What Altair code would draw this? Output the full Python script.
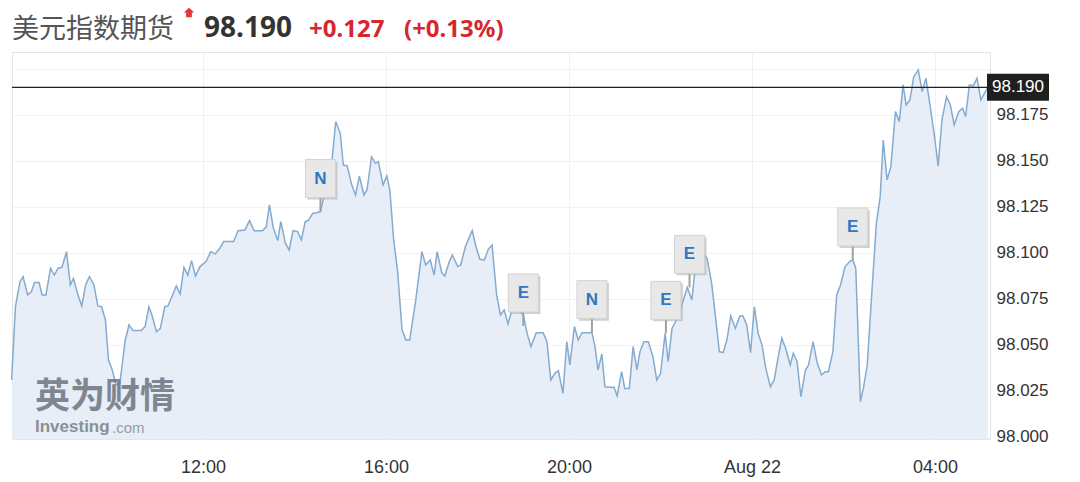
import altair as alt
import pandas as pd

# ---- series: minutes relative to 12:00 (Aug 21) and price ----
minutes = [-251,-246,-240,-236,-230,-225,-221,-215,-211,-206,-200,-195,-190,-185,-179,-174,-170,-164,-159,-154,
           -149,-143,-138,-133,-128,-124,-119,-114,-109,-102,-97,-92,-81,-76,-71,-67,-61,-56,-50,-46,
           -35,-30,-25,-20,-15,-10,-4,4,10,16,22,27,40,46,55,61,67,78,83,87,
           92,98,102,108,113,118,124,129,134,138,144,149,154,169,174,180,184,189,195,200,
           205,211,215,221,226,230,236,241,245,250,255,261,266,271,279,287,292,298,303,307,
           313,317,323,327,334,338,344,348,353,358,363,369,374,379,385,390,395,400,405,414,
           420,425,430,437,446,451,456,462,466,472,477,481,487,492,497,510,514,518,523,527,
           534,539,543,549,553,559,564,569,573,578,584,590,595,600,606,610,615,622,628,635,
           641,645,656,661,667,673,677,682,687,692,698,704,708,713,718,723,728,733,738,744,
           749,754,759,764,770,774,779,784,790,794,800,805,811,816,820,826,831,836,842,848,
           852,856,862,866,871,877,883,888,892,897,902,908,913,918,922,927,932,938,943,948,
           953,959,964,969,975,980,985,991,996,1000,1005,1010,1015,1020,1026,1029]
prices = [98.031,98.0708,98.0844,98.0871,98.0772,98.079,98.0839,98.0839,98.0772,98.0772,98.0917,98.088,98.0917,98.0922,98.1007,98.0826,98.0862,98.0772,98.0712,98.0826,
          98.0871,98.0826,98.0712,98.0708,98.0636,98.0418,98.0364,98.0283,98.0293,98.0527,98.0609,98.0578,98.0578,98.06,98.0708,98.0663,98.0572,98.059,98.0708,98.0712,
          98.0821,98.0777,98.0922,98.088,98.0958,98.0875,98.0926,98.0953,98.1007,98.0995,98.1025,98.1062,98.1062,98.1121,98.1125,98.1176,98.1121,98.1121,98.1143,98.1261,
          98.114,98.1067,98.117,98.1053,98.1016,98.1121,98.1116,98.1071,98.117,98.1176,98.1216,98.1219,98.1225,98.1496,98.1714,98.165,98.1478,98.1473,98.137,98.1315,
          98.1418,98.1315,98.1342,98.1523,98.1487,98.1496,98.137,98.1418,98.1342,98.1071,98.0908,98.0582,98.0527,98.0527,98.0745,98.1007,98.0935,98.0962,98.088,98.1007,
          98.0893,98.0875,98.0953,98.0989,98.0926,98.0935,98.1034,98.1074,98.1121,98.1034,98.0966,98.0962,98.102,98.1043,98.0772,98.0663,98.069,98.0614,98.069,98.069,
          98.0663,98.0563,98.0491,98.0567,98.0567,98.0518,98.031,98.0349,98.036,98.0237,98.0518,98.0391,98.06,98.0527,98.0567,98.0567,98.0491,98.0364,98.0451,98.0273,
          98.027,98.027,98.0223,98.0355,98.0264,98.0264,98.0491,98.0364,98.0464,98.0518,98.0518,98.0436,98.031,98.0346,98.0563,98.0409,98.059,98.0645,98.0717,98.0813,
          98.0745,98.0899,98.0998,98.0971,98.0835,98.0618,98.0464,98.0458,98.0527,98.0658,98.059,98.0658,98.0658,98.0609,98.0458,98.0708,98.0563,98.05,98.0373,98.0273,
          98.031,98.0428,98.0536,98.0482,98.0391,98.0455,98.0409,98.0219,98.0364,98.0391,98.0518,98.0409,98.0337,98.0355,98.0355,98.0464,98.0772,98.0826,98.0926,98.0953,
          98.0962,98.0917,98.0192,98.0264,98.0391,98.0781,98.1161,98.1306,98.1614,98.1397,98.1469,98.1768,98.1714,98.1913,98.1804,98.1832,98.1958,98.1995,98.1877,98.1949,
          98.1813,98.1641,98.1473,98.1723,98.1849,98.1804,98.1696,98.1768,98.1786,98.1741,98.1913,98.1908,98.1949,98.1832,98.1877,98.19]

# ---- event markers ----
marker_letters = ["N", "E", "N", "E", "E", "E"]
marker_minutes = [154, 420, 510, 607, 638, 852]
marker_prices = [98.1225, 98.0603, 98.0567, 98.0563, 98.0813, 98.0962]

# ---- axes ----
x_tick_minutes = [0, 240, 480, 720, 960]
x_tick_labels = ["12:00", "16:00", "20:00", "Aug 22", "04:00"]
y_ticks = [98.000, 98.025, 98.050, 98.075, 98.100, 98.125, 98.150, 98.175, 98.200]
y_hidden = 98.200

last_price = 98.190
name = "美元指数期货"
last_text = "98.190"
change_abs = "+0.127"
change_pct = "(+0.13%)"

W, H = 978, 387
X_DOMAIN = [-250.5, 1032]
Y_DOMAIN = [97.9989, 98.2092]

df = pd.DataFrame({"t": minutes, "p": prices})
mk = pd.DataFrame({"t": marker_minutes, "p": marker_prices, "l": marker_letters})

label_expr = " : ".join(
    f"datum.value == {m} ? '{l}'" for m, l in zip(x_tick_minutes, x_tick_labels)
) + " : ''"

xs = alt.Scale(domain=X_DOMAIN, nice=False, zero=False)
ys = alt.Scale(domain=Y_DOMAIN, nice=False, zero=False)

x_enc = alt.X("t:Q", scale=xs, axis=alt.Axis(
    values=x_tick_minutes, labelExpr=label_expr, title=None, grid=True,
    gridColor="#f1f1f1", domain=False, ticks=False, labelPadding=19,
    labelFontSize=18, labelFont="Liberation Sans", labelColor="#333"))
y_enc = alt.Y("p:Q", scale=ys, stack=None, axis=alt.Axis(
    orient="right", values=y_ticks, format=".3f",
    labelExpr=f"datum.value >= {y_hidden - 0.0001} ? '' : datum.label",
    title=None, grid=True, gridColor="#f1f1f1", domain=False, ticks=False,
    labelPadding=6, labelFontSize=17, labelFont="Liberation Sans", labelColor="#333"))

area = alt.Chart(df).mark_area(color="#e7eef7", clip=True).encode(x=x_enc, y=y_enc, y2=alt.value(H))
line = alt.Chart(df).mark_line(color="#84abd0", strokeWidth=1.5).encode(x="t:Q", y="p:Q")

last_df = pd.DataFrame({"p": [last_price], "txt": [last_text]})
price_rule = alt.Chart(last_df).mark_rule(color="#222", strokeWidth=1.3).encode(
    y="p:Q", x=alt.value(0), x2=alt.value(975))
box_path = "M-1,-0.435H1V0.435H-1Z"
price_box = alt.Chart(last_df).mark_point(shape=box_path, filled=True, fill="#1f1f1f",
                                          opacity=1, size=62 * 62).encode(
    y="p:Q", x=alt.value(1006))
price_txt = alt.Chart(last_df).mark_text(color="white", fontSize=17, font="Liberation Sans").encode(
    y="p:Q", x=alt.value(1006), text="txt:N")

tag_path = "M-0.79,-1H0.79V1H-0.79Z"
stems = alt.Chart(mk).mark_rule(color="#a0a0a0", strokeWidth=2, yOffset=-14).encode(
    x="t:Q", y="p:Q", y2="p:Q")
shadow = alt.Chart(mk).mark_point(shape=tag_path, filled=True, fill="#b0b0b0", opacity=0.6,
                                  size=38 * 38, xOffset=2, yOffset=-31).encode(x="t:Q", y="p:Q")
boxes = alt.Chart(mk).mark_point(shape=tag_path, filled=True, fill="#e8e8e8", stroke="#d2d2d2",
                                 strokeWidth=1, opacity=1, size=38 * 38, yOffset=-33).encode(x="t:Q", y="p:Q")
letters = alt.Chart(mk).mark_text(color="#2e77c2", fontSize=17, fontWeight="bold",
                                  font="Liberation Sans", yOffset=-33).encode(x="t:Q", y="p:Q", text="l:N")

# ---- header ----
hdr = pd.DataFrame({"a": [0]})
h_name = alt.Chart(hdr).mark_text(text=name, align="left", baseline="middle", fontSize=27,
                                  font="Noto Sans CJK SC", color="#555").encode(x=alt.value(0), y=alt.value(-22))
h_icon = alt.Chart(hdr).mark_point(shape="M0,-1L1,-0.1L0.55,-0.1L0.55,0.8L-0.55,0.8L-0.55,-0.1L-1,-0.1Z",
                                   filled=True, fill="#e0373d", opacity=1, size=110).encode(
    x=alt.value(177), y=alt.value(-39))
h_last = alt.Chart(hdr).mark_text(text=last_text, align="left", baseline="middle", fontSize=28,
                                  fontWeight="bold", font="Noto Sans", color="#333").encode(x=alt.value(192), y=alt.value(-23))
h_abs = alt.Chart(hdr).mark_text(text=change_abs, align="left", baseline="middle", fontSize=24,
                                 fontWeight="bold", font="Noto Sans", color="#d8262d").encode(x=alt.value(297), y=alt.value(-22))
h_pct = alt.Chart(hdr).mark_text(text=change_pct, align="left", baseline="middle", fontSize=24,
                                 fontWeight="bold", font="Noto Sans", color="#d8262d").encode(x=alt.value(392), y=alt.value(-22))

# ---- watermark ----
wm1 = alt.Chart(hdr).mark_text(text="英为财情", align="left", baseline="middle", fontSize=35,
                               fontWeight="bold", font="Noto Sans CJK SC", color="#6d7580", opacity=0.85).encode(
    x=alt.value(23), y=alt.value(345))
wm2 = alt.Chart(hdr).mark_text(text="Investing", align="left", baseline="middle", fontSize=17,
                               fontWeight="bold", font="Liberation Sans", color="#7a7f86", opacity=0.85).encode(
    x=alt.value(23), y=alt.value(375))
wm3 = alt.Chart(hdr).mark_text(text=".com", align="left", baseline="middle", fontSize=15,
                               font="Liberation Sans", color="#8a8f96", opacity=0.85).encode(
    x=alt.value(100), y=alt.value(376))

chart = alt.layer(
    area, line, wm1, wm2, wm3, price_rule, stems, shadow, boxes, letters,
    price_box, price_txt, h_name, h_icon, h_last, h_abs, h_pct
).properties(
    width=W, height=H,
    autosize=alt.AutoSizeParams(type="none"),
    padding={"left": 4, "top": 44, "right": 82, "bottom": 45},
    background="white",
).configure_view(stroke="#e4e4e4")

chart.save("out.html", embed_options={"renderer": "svg", "actions": False})
